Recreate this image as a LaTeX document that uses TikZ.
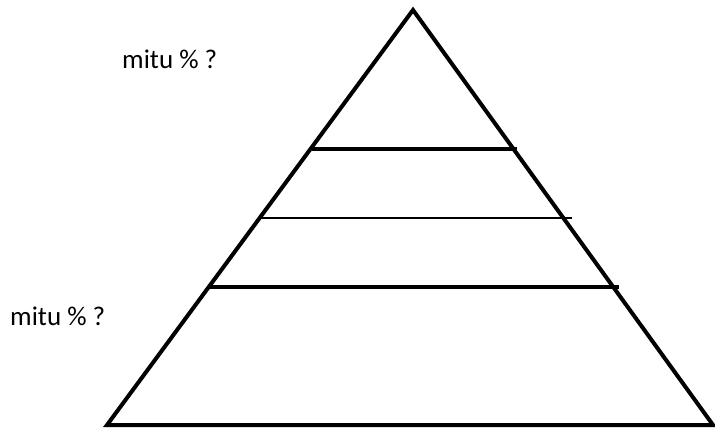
\documentclass[tikz,border=0pt]{standalone}
\usepackage{fontspec}
\setmainfont{Carlito}
\begin{document}
\begin{tikzpicture}[x=1pt,y=-1pt,
  edge/.style={line width=4pt,line join=miter},
  thickdiv/.style={line width=3.8pt},
  thindiv/.style={line width=1.5pt},
  lbl/.style={anchor=base west,inner sep=0pt,font=\fontsize{27}{32}\selectfont}]
\useasboundingbox (0,0) rectangle (715,428);
\coordinate (apex) at (413,10);
\coordinate (bl) at (107,425);
\coordinate (br) at (713,425);
\draw[edge] (apex) -- (br) -- (bl) -- cycle;
\coordinate (a1) at (312,149);
\coordinate (b1) at (517,149);
\coordinate (a2) at (260,218);
\coordinate (b2) at (572,218);
\coordinate (a3) at (209,287);
\coordinate (b3) at (619,287);
\draw[thickdiv] (a1) -- (b1);
\draw[thindiv] (a2) -- (b2);
\draw[thickdiv] (a3) -- (b3);
\node[lbl] (t1) at (122,69) {mitu \% ?};
\node[lbl] (t2) at (10,325) {mitu \% ?};
\end{tikzpicture}
\end{document}
